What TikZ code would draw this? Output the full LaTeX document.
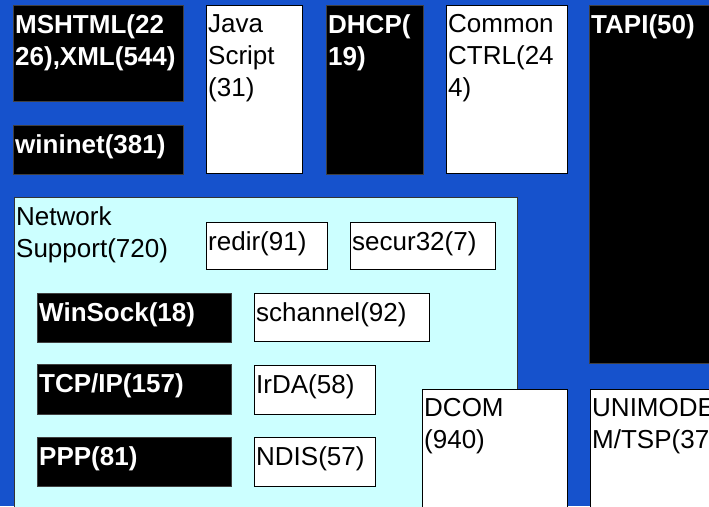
\documentclass[tikz,border=0pt]{standalone}
\usepackage{fontspec}
\setmainfont{Liberation Sans}
\usepackage{tikz}

\definecolor{slideblue}{RGB}{22,82,204}
\definecolor{netcyan}{RGB}{204,255,255}

\tikzset{
  dark/.style={draw=black!75, fill=black, anchor=north west, inner sep=0pt},
  light/.style={draw=black, line width=1.2pt, fill=white, anchor=north west, inner sep=0pt},
  netbox/.style={draw=black!80, line width=1.2pt, fill=netcyan, anchor=north west, inner sep=0pt},
  darktext/.style={anchor=north west, inner xsep=2pt, inner ysep=9pt, align=left, text=white, font=\fontsize{26}{32}\selectfont\bfseries},
  lighttext/.style={anchor=north west, inner xsep=2pt, inner ysep=9pt, align=left, text=black, font=\fontsize{26}{32}\selectfont},
}

\begin{document}
\begin{tikzpicture}[x=1pt, y=-1pt]
  \useasboundingbox (0,0) rectangle (709,506);
  \clip (0,0) rectangle (709,506);
  \fill[slideblue] (0,0) rectangle (709,506);

  % top row
  \node[dark, minimum width=170pt, minimum height=96pt] (mshtml) at (13,5) {};
  \node[darktext] (mshtmltxt) at (mshtml.north west) {MSHTML(22\\26),XML(544)};
  \node[dark, minimum width=170pt, minimum height=49pt] (wininet) at (13,125) {};
  \node[darktext] (wininettxt) at (wininet.north west) {wininet(381)};
  \node[light, minimum width=96pt, minimum height=168pt] (jscript) at (206,5) {};
  \node[lighttext] (jscripttxt) at (jscript.north west) {Java\\Script\\(31)};
  \node[dark, minimum width=97pt, minimum height=169pt] (dhcp) at (326,5) {};
  \node[darktext] (dhcptxt) at (dhcp.north west) {DHCP(\\19)};
  \node[light, minimum width=121pt, minimum height=168pt] (commctrl) at (446,5) {};
  \node[lighttext] (commctrltxt) at (commctrl.north west) {Common\\CTRL(24\\4)};
  \node[dark, minimum width=140pt, minimum height=358pt] (tapi) at (589,5) {};
  \node[darktext] (tapitxt) at (tapi.north west) {TAPI(50)};

  % network support
  \node[netbox, minimum width=503pt, minimum height=330pt] (net) at (14,197) {};
  \node[lighttext] (nettxt) at (net.north west) {Network\\Support(720)};
  \node[light, minimum width=121pt, minimum height=47pt] (redir) at (206,222) {};
  \node[lighttext] (redirtxt) at (redir.north west) {redir(91)};
  \node[light, minimum width=145pt, minimum height=47pt] (secur) at (350,222) {};
  \node[lighttext] (securtxt) at (secur.north west) {secur32(7)};
  \node[dark, minimum width=194pt, minimum height=49pt] (winsock) at (37,293) {};
  \node[darktext] (winsocktxt) at (winsock.north west) {WinSock(18)};
  \node[dark, minimum width=194pt, minimum height=50pt] (tcpip) at (37,364) {};
  \node[darktext] (tcpiptxt) at (tcpip.north west) {TCP/IP(157)};
  \node[dark, minimum width=194pt, minimum height=49pt] (ppp) at (37,437) {};
  \node[darktext] (ppptxt) at (ppp.north west) {PPP(81)};
  \node[light, minimum width=175pt, minimum height=48pt] (schannel) at (254,293) {};
  \node[lighttext] (schanneltxt) at (schannel.north west) {schannel(92)};
  \node[light, minimum width=121pt, minimum height=49pt] (irda) at (254,365) {};
  \node[lighttext] (irdatxt) at (irda.north west) {IrDA(58)};
  \node[light, minimum width=121pt, minimum height=49pt] (ndis) at (254,437) {};
  \node[lighttext] (ndistxt) at (ndis.north west) {NDIS(57)};

  % bottom right
  \node[light, minimum width=145pt, minimum height=140pt] (dcom) at (422,389) {};
  \node[lighttext] (dcomtxt) at (dcom.north west) {DCOM\\(940)};
  \node[light, minimum width=140pt, minimum height=140pt] (unimodem) at (590,389) {};
  \node[lighttext] (unimodemtxt) at (unimodem.north west) {UNIMODE\\M/TSP(37};
\end{tikzpicture}
\end{document}
